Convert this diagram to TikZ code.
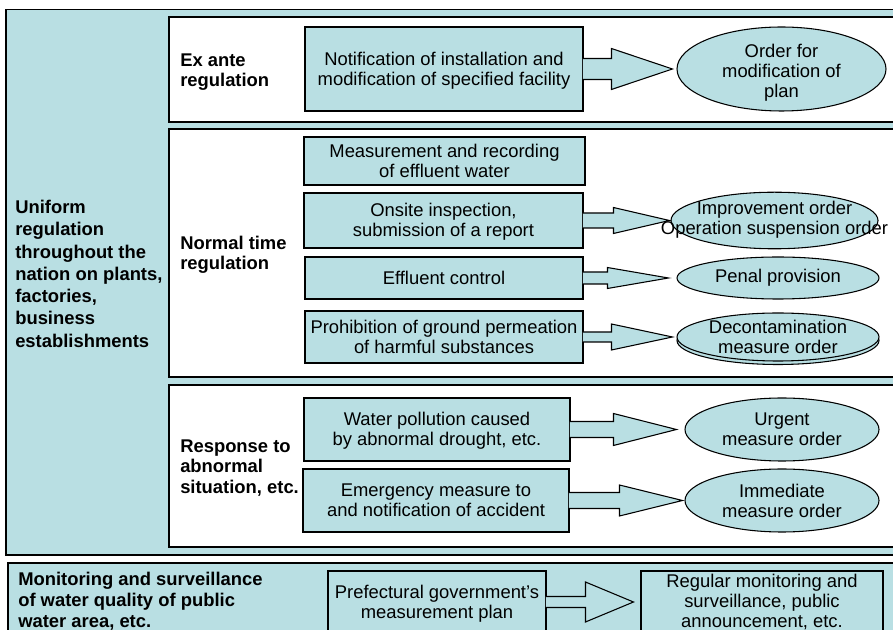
\documentclass[tikz,border=0pt]{standalone}
\usepackage{fontspec}
\setmainfont{Liberation Sans}
\usetikzlibrary{shapes.geometric,calc}

\definecolor{paleblue}{RGB}{185,223,227}
\newcommand{\boxfont}{\fontsize{13.8}{15}\selectfont}
\newcommand{\headfont}{\fontsize{13.8}{15.4}\selectfont\bfseries}

\tikzset{
    rule/.style={draw=black,line width=0.8pt},
    panel/.style={rule,fill=white},
    sz/.style 2 args={minimum width={#1*0.75pt},minimum height={#2*0.75pt}},
    rows/.style={text height=#1,text depth=2.9pt},
    item/.style={rule,fill=paleblue,rectangle,align=center,inner sep=0pt,font=\boxfont},
    oval/.style={rule,fill=paleblue,ellipse,align=center,inner sep=0pt,font=\boxfont},
    heading/.style={anchor=west,align=left,inner sep=0pt,font=\headfont},
    fatarrow/.style={rule,fill=paleblue,line join=miter}
}

% from, to, stem half, head half, head length, gap
\newcommand{\fatarrow}[6]{%
    \coordinate (fa) at (#1.east |- #2.west);
    \path[fatarrow] ($(fa)+(-0.6,-#3)$)
        -- ($(#2.west)+(-#5-#6,-#3)$) -- ($(#2.west)+(-#5-#6,-#4)$)
        -- ($(#2.west)+(-#6,0)$)
        -- ($(#2.west)+(-#5-#6,#4)$) -- ($(#2.west)+(-#5-#6,#3)$)
        -- ($(fa)+(-0.6,#3)$);
}

\begin{document}
\begin{tikzpicture}[x=0.75pt,y=-0.75pt]

    \useasboundingbox (0,0) rectangle (893,630);
    \clip (0,0) rectangle (893,630);

    \draw[rule,fill=paleblue] (6,9.5) rectangle (905,555);
    \draw[panel] (169,17) rectangle (905,122);
    \draw[panel] (169,129) rectangle (905,377);
    \draw[panel] (169,385) rectangle (905,547);
    \draw[rule,fill=paleblue] (8,563) rectangle (905,645);

    \node[heading,font={\fontsize{13.8}{16.7}\selectfont\bfseries},rows=112.7pt] (uniform) at (15,274)
        {Uniform\\regulation\\throughout the\\nation on plants,\\factories,\\business\\establishments};
    \node[heading,rows=27.9pt] (exante) at (180,70) {Ex ante\\regulation};
    \node[heading,rows=27.9pt] (normal) at (180,253) {Normal time\\regulation};
    \node[heading,rows=43.3pt] (abnormal) at (180,466.5) {Response to\\abnormal\\situation, etc.};
    \node[heading,font={\fontsize{13.8}{15.8}\selectfont\bfseries},rows=44.1pt] (monitor) at (18,600)
        {Monitoring and surveillance\\of water quality of public\\water area, etc.};

    \begin{scope}[every node/.style={item,rows=27.5pt}]
        \node[sz={278}{84}] (notif) at (444,69) {Notification of installation and\\modification of specified facility};
        \node[sz={281}{48}] (measure) at (444.5,161) {Measurement and recording\\of effluent water};
        \node[sz={279}{55}] (onsite) at (443.5,220.5) {Onsite inspection,\\submission of a report};
        \node[sz={278}{42},rows=12.5pt] (effluent) at (444,278) {Effluent control};
        \node[sz={278}{52}] (prohibit) at (444,337) {Prohibition of ground permeation\\of harmful substances};
        \node[sz={266}{63}] (drought) at (437,429.5) {Water pollution caused\\by abnormal drought, etc.};
        \node[sz={266}{63}] (accident) at (436,500.5) {Emergency measure to\\and notification of accident};
        \node[sz={218}{62}] (plan) at (437,602) {Prefectural government's\\measurement plan};
        \node[sz={242}{62},rows=40.5pt] (survey) at (762,602) {Regular monitoring and\\surveillance, public\\announcement, etc.};
    \end{scope}

    \begin{scope}[every node/.style={oval}]
        \node[sz={209}{84},text height=42.5pt,text depth=0pt] (modify) at (781.5,69) {Order for\\modification of\\plan};
        \node[sz={207}{55}] (improve) at (774.5,220.5)
            {\makebox[0pt]{\raisebox{-2.25pt}{\begin{tabular}{@{}c@{}}Improvement order\\Operation suspension order\end{tabular}}}};
        \node[sz={202}{42}] (penal) at (778,278) {Penal provision};
        \node[sz={202}{48}] (decontback) at (778,340.5) {};
        \node[sz={202}{48}] (decont) at (778,337) {Decontamination\\measure order};
        \node[sz={194}{63}] (urgent) at (782,429.5) {Urgent\\measure order};
        \node[sz={194}{63}] (immediate) at (782,500.5) {Immediate\\measure order};
    \end{scope}

    \fatarrow{notif}{modify}{10.5}{20.5}{61}{4}
    \fatarrow{onsite}{improve}{7.5}{13}{56}{1}
    \fatarrow{effluent}{penal}{6}{10.5}{61}{8}
    \fatarrow{prohibit}{decont}{5}{13}{61}{4}
    \fatarrow{drought}{urgent}{8}{16}{63}{8}
    \fatarrow{accident}{immediate}{8}{15.5}{63}{2}
    \fatarrow{plan}{survey}{5.5}{20}{48}{7}

\end{tikzpicture}
\end{document}
